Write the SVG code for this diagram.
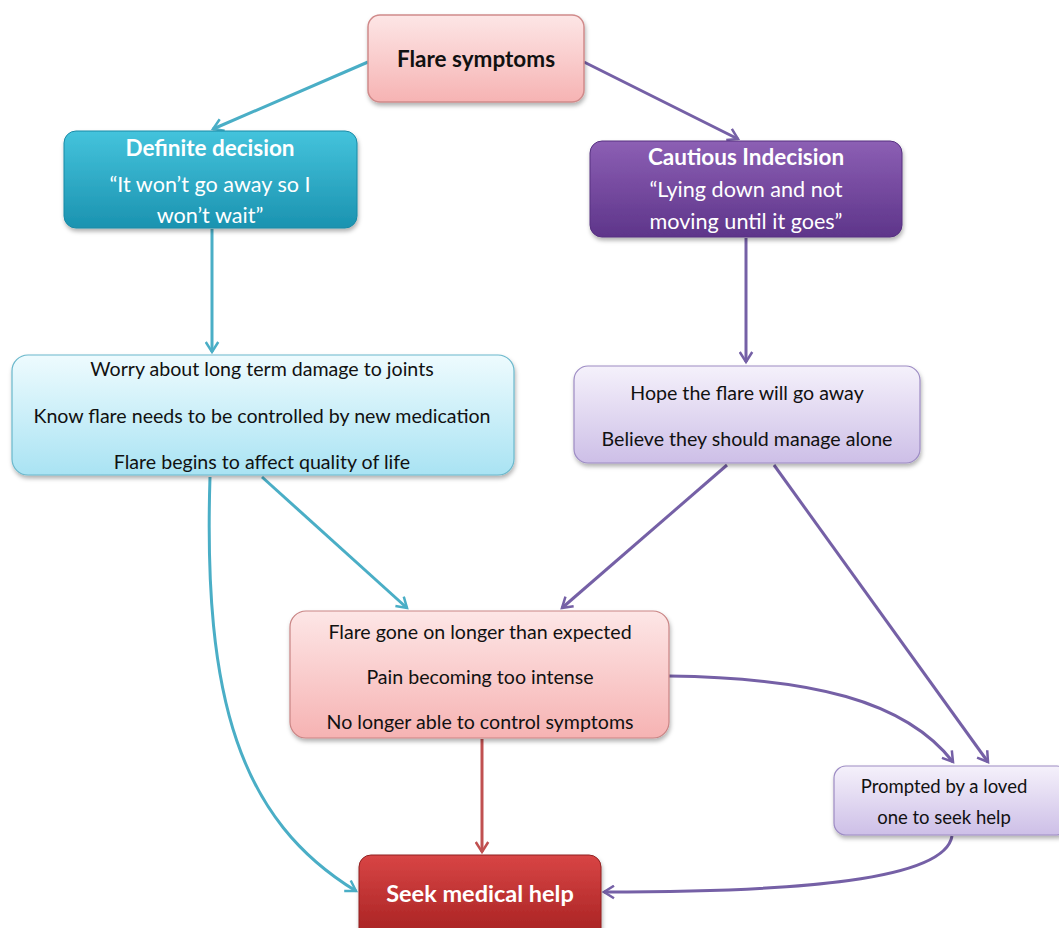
<svg xmlns="http://www.w3.org/2000/svg" width="1059" height="928" viewBox="0 0 1059 928">
  <defs>
    <linearGradient id="gPink" x1="0" y1="0" x2="0" y2="1">
      <stop offset="0" stop-color="#fde6e6"/>
      <stop offset="1" stop-color="#f6b3b3"/>
    </linearGradient>
    <linearGradient id="gTeal" x1="0" y1="0" x2="0" y2="1">
      <stop offset="0" stop-color="#44c3dc"/>
      <stop offset="1" stop-color="#1b93b0"/>
    </linearGradient>
    <linearGradient id="gPurple" x1="0" y1="0" x2="0" y2="1">
      <stop offset="0" stop-color="#8c5fb4"/>
      <stop offset="1" stop-color="#5e358a"/>
    </linearGradient>
    <linearGradient id="gCyan" x1="0" y1="0" x2="0" y2="1">
      <stop offset="0" stop-color="#eefbfe"/>
      <stop offset="1" stop-color="#a9e3f3"/>
    </linearGradient>
    <linearGradient id="gLav" x1="0" y1="0" x2="0" y2="1">
      <stop offset="0" stop-color="#f5f1fb"/>
      <stop offset="1" stop-color="#cdbfe7"/>
    </linearGradient>
    <linearGradient id="gRed" x1="0" y1="0" x2="0" y2="1">
      <stop offset="0" stop-color="#d84545"/>
      <stop offset="1" stop-color="#a52020"/>
    </linearGradient>
    <filter id="shadow" x="-10%" y="-10%" width="120%" height="130%">
      <feDropShadow dx="1" dy="3" stdDeviation="2" flood-color="#000" flood-opacity="0.3"/>
    </filter>
    <marker id="aTeal" viewBox="0 0 12 12" refX="10" refY="6" markerWidth="5" markerHeight="5" orient="auto" markerUnits="strokeWidth">
      <path d="M2,1 L10,6 L2,11" fill="none" stroke="#4aaec6" stroke-width="2"/>
    </marker>
    <marker id="aPurple" viewBox="0 0 12 12" refX="10" refY="6" markerWidth="5" markerHeight="5" orient="auto" markerUnits="strokeWidth">
      <path d="M2,1 L10,6 L2,11" fill="none" stroke="#7560a6" stroke-width="2"/>
    </marker>
    <marker id="aRed" viewBox="0 0 12 12" refX="10" refY="6" markerWidth="5" markerHeight="5" orient="auto" markerUnits="strokeWidth">
      <path d="M2,1 L10,6 L2,11" fill="none" stroke="#c05050" stroke-width="2"/>
    </marker>
  </defs>
  <style>
    .box { filter: url(#shadow); }
    text { font-family: Lato, "Liberation Sans", sans-serif; text-anchor: middle; }
    .dark { fill: #111; font-size: 19.6px; }
    .small { font-size: 18.5px; }
    .light { fill: #fff; font-size: 21.6px; }
    .b { font-weight: bold; }
    .c { fill: none; stroke-width: 3; }
    .teal { stroke: #4aaec6; marker-end: url(#aTeal); }
    .purple { stroke: #7560a6; marker-end: url(#aPurple); }
    .red { stroke: #c05050; marker-end: url(#aRed); }
  </style>
  <rect width="1059" height="928" fill="#fff"/>

  <!-- connectors -->
  <g id="connectors">
    <path class="c teal" d="M368,62 L213,129"/>
    <path class="c purple" d="M584,62 L738,139"/>
    <path class="c teal" d="M212,229 L212,352"/>
    <path class="c purple" d="M746,238 L746,362"/>
    <path class="c teal" d="M262,477 L407,608"/>
    <path class="c purple" d="M727,465 L562,608"/>
    <path class="c purple" d="M774,465 L988,762"/>
    <path class="c purple" d="M669,676 C810,678 905,700 953,762"/>
    <path class="c teal" d="M210,477 C203,700 240,820 356,891"/>
    <path class="c red" d="M482,739 L482,852"/>
    <path class="c purple" d="M952,836 C945,880 800,892 604,892"/>
  </g>

  <g id="flare-symptoms">
    <rect class="box" x="368" y="15" width="216" height="87" rx="12" fill="url(#gPink)" stroke="#d08a8a" stroke-width="1.5"/>
    <text class="dark b" x="476" y="67" style="font-size:22.5px">Flare symptoms</text>
  </g>

  <g id="definite-decision">
    <rect class="box" x="64" y="131" width="293" height="97" rx="12" fill="url(#gTeal)" stroke="#1a8aa6" stroke-width="1"/>
    <text class="light b" x="210" y="156" style="font-size:22.5px">Definite decision</text>
    <text class="light" x="210" y="192">“It won’t go away so I</text>
    <text class="light" x="210" y="223">won’t wait”</text>
  </g>

  <g id="cautious-indecision">
    <rect class="box" x="590" y="141" width="312" height="96" rx="12" fill="url(#gPurple)" stroke="#563080" stroke-width="1"/>
    <text class="light b" x="746" y="165" style="font-size:22.5px">Cautious Indecision</text>
    <text class="light" x="746" y="197">“Lying down and not</text>
    <text class="light" x="746" y="229">moving until it goes”</text>
  </g>

  <g id="worry">
    <rect class="box" x="12" y="355" width="502" height="120" rx="16" fill="url(#gCyan)" stroke="#6ab8cc" stroke-width="1.2"/>
    <text class="dark" x="262" y="376">Worry about long term damage to joints</text>
    <text class="dark" x="262" y="423">Know flare needs to be controlled by new medication</text>
    <text class="dark" x="262" y="469">Flare begins to affect quality of life</text>
  </g>

  <g id="hope">
    <rect class="box" x="574" y="366" width="346" height="97" rx="14" fill="url(#gLav)" stroke="#9d8cc4" stroke-width="1.2"/>
    <text class="dark" x="747" y="400">Hope the flare will go away</text>
    <text class="dark" x="747" y="446">Believe they should manage alone</text>
  </g>

  <g id="flare-gone">
    <rect class="box" x="290" y="611" width="379" height="127" rx="16" fill="url(#gPink)" stroke="#c98484" stroke-width="1.2"/>
    <text class="dark" x="480" y="639">Flare gone on longer than expected</text>
    <text class="dark" x="480" y="684">Pain becoming too intense</text>
    <text class="dark" x="480" y="729">No longer able to control symptoms</text>
  </g>

  <g id="prompted">
    <rect class="box" x="834" y="766" width="235" height="69" rx="12" fill="url(#gLav)" stroke="#9d8cc4" stroke-width="1.2"/>
    <text class="dark small" x="944" y="793">Prompted by a loved</text>
    <text class="dark small" x="944" y="824">one to seek help</text>
  </g>

  <g id="seek-help">
    <rect class="box" x="359" y="855" width="242" height="85" rx="12" fill="url(#gRed)" stroke="#902020" stroke-width="1"/>
    <text class="light b" x="480" y="902" style="font-size:23.5px">Seek medical help</text>
  </g>
</svg>
